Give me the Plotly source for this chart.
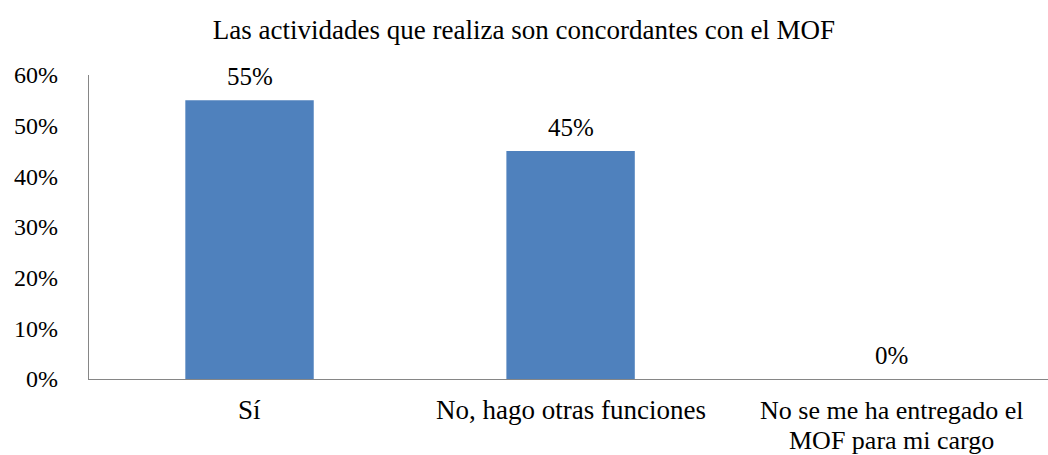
import plotly.graph_objects as go

# Survey responses: share of respondents per answer
categories = ["Sí", "No, hago otras funciones", "No se me ha entregado el\nMOF para mi cargo"]
shares = [0.55, 0.45, 0.0]
value_labels = ["55%", "45%", "0%"]
y_ticks = [0, 0.1, 0.2, 0.3, 0.4, 0.5, 0.6]
y_tick_labels = ["0%", "10%", "20%", "30%", "40%", "50%", "60%"]

FONT = "Liberation Serif, Times New Roman, serif"

fig = go.Figure(
    go.Bar(
        x=list(range(len(categories))),
        y=shares,
        width=0.4,
        marker=dict(color="#4F81BD", line=dict(width=0)),
        cliponaxis=False,
    )
)

# Value labels placed a fixed distance above each bar
for i, (val, lab) in enumerate(zip(shares, value_labels)):
    fig.add_annotation(
        x=i, y=val, xref="x", yref="y",
        text=lab, showarrow=False,
        xanchor="center", yanchor="middle",
        yshift=24,
        font=dict(family=FONT, size=25, color="#000000"),
    )

# Category labels, one annotation per text line for tight line spacing
for i, cat in enumerate(categories):
    lines = cat.split("\n")
    size = 27 if len(lines) == 1 else 26
    for j, line in enumerate(lines):
        fig.add_annotation(
            x=i, y=0, xref="x", yref="y",
            text=line, showarrow=False,
            xanchor="center", yanchor="middle",
            yshift=-(31 + 30 * j),
            font=dict(family=FONT, size=size, color="#000000"),
        )

fig.update_layout(
    width=1048,
    height=455,
    margin=dict(l=89, r=0, t=75, b=76),
    paper_bgcolor="white",
    plot_bgcolor="white",
    showlegend=False,
    font=dict(family=FONT, size=25, color="#000000"),
    title=dict(
        text="Las actividades que realiza son concordantes con el MOF",
        x=0.5, xanchor="center",
        y=1 - 30 / 455, yanchor="middle", yref="container",
        font=dict(family=FONT, size=27, color="#000000"),
    ),
    xaxis=dict(
        range=[-0.5, 2.487],
        showline=True, linecolor="#868686", linewidth=1.3,
        showgrid=False, ticks="", showticklabels=False, zeroline=False,
    ),
    yaxis=dict(
        range=[0, 0.6],
        tickvals=y_ticks, ticktext=y_tick_labels,
        showline=True, linecolor="#868686", linewidth=1.3,
        showgrid=False, ticks="", zeroline=False,
        ticklabelstandoff=25,
        tickfont=dict(family=FONT, size=24, color="#000000"),
    ),
)

fig.write_html("out.html")
